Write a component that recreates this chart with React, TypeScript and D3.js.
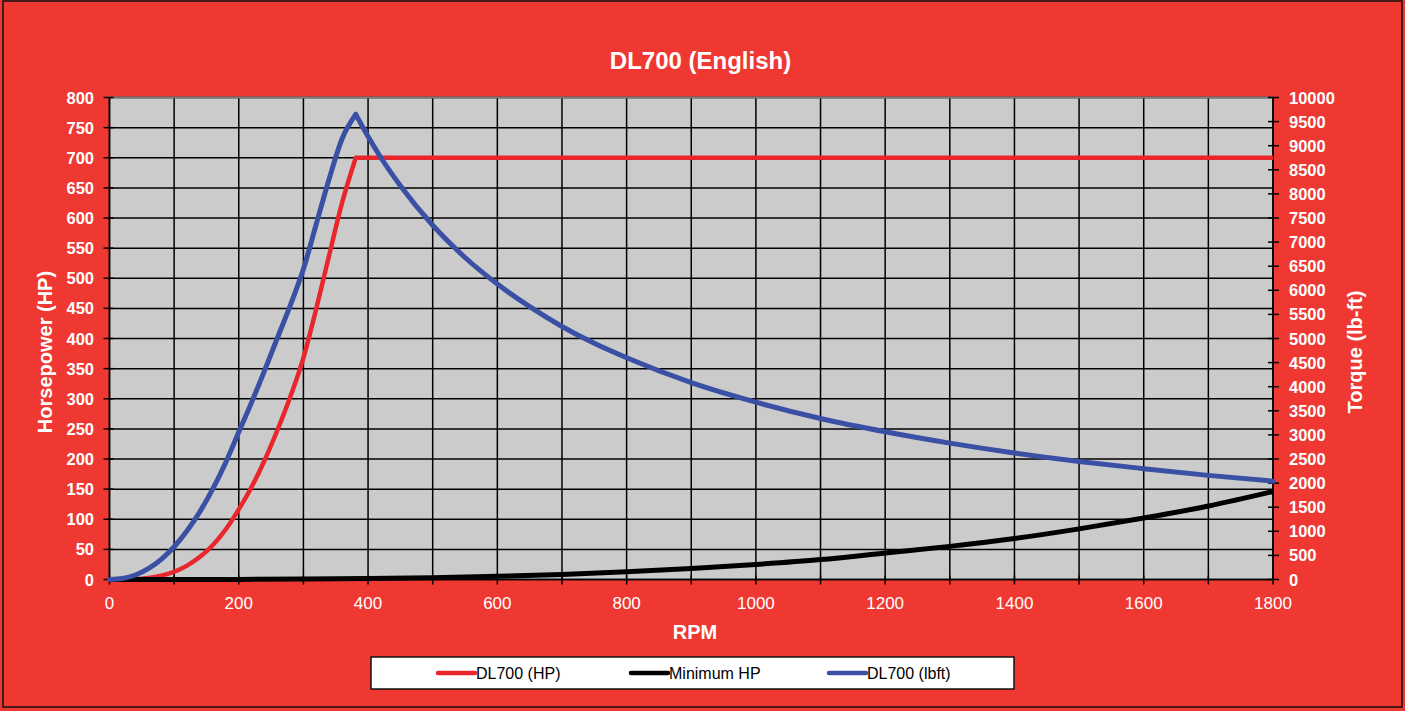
import React from 'react';
import * as d3 from 'd3';

// ---- data ----
const hpRpm = [0, 20, 40, 60, 80, 100, 120, 140, 160, 180, 200, 220, 240, 260, 280, 300, 320, 340, 360, 381];
const hpValues = [0, 0.1, 0.7, 2.6, 6.4, 12.9, 23, 37.6, 57.4, 83.4, 116.5, 154, 198, 248.5, 304, 368, 450, 539, 626, 700];
const hpFlatRpm = [381, 1800];
const hpFlatValues = [700, 700];

const torqueRiseRpm = [0, 20, 40, 60, 80, 100, 120, 140, 160, 180, 200, 220, 240, 260, 280, 300, 320, 340, 360, 381];
const torqueRiseValues = [0, 21, 93, 224, 419, 680, 1010, 1411, 1885, 2434, 3060, 3680, 4340, 5020, 5700, 6440, 7380, 8320, 9150, 9650];
const torqueFallRpm = [381, 400, 420, 450, 500, 550, 600, 650, 700, 750, 800, 900, 1000, 1100, 1200, 1300, 1400, 1500, 1600, 1700, 1800];
const torqueFallValues = [9650, 9190, 8750, 8170, 7350, 6680, 6130, 5660, 5250, 4900, 4600, 4085, 3680, 3340, 3065, 2830, 2625, 2450, 2300, 2160, 2040];

const minRpm = [0, 100, 200, 300, 400, 500, 600, 700, 800, 900, 1000, 1100, 1200, 1300, 1400, 1500, 1600, 1700, 1800];
const minHp = [0, 0, 0.2, 0.7, 1.6, 3.1, 5.4, 8.5, 12.7, 18.1, 24.9, 33.1, 44, 55, 68, 84, 102, 122, 146];

const rpmGrid = d3.range(0, 1801, 100);
const rpmLabels = [0, 200, 400, 600, 800, 1000, 1200, 1400, 1600, 1800];
const hpTicks = d3.range(0, 801, 50);
const torqueTicks = d3.range(0, 10001, 500);

const legendItems = [
  { label: 'DL700 (HP)', color: '#E8262B' },
  { label: 'Minimum HP', color: '#000000' },
  { label: 'DL700 (lbft)', color: '#3A50A4' },
];

const W = 1405;
const H = 711;
const BG = '#EE3831';
const FONT = "Arial, 'Liberation Sans', sans-serif";
const RED = '#E8262B';
const BLUE = '#3A50A4';

export default function App() {
  const left = 109.5, right = 1273, top = 97.5, bottom = 579.5;
  const x = d3.scaleLinear().domain([0, 1800]).range([left, right]);
  const yHp = d3.scaleLinear().domain([0, 800]).range([bottom, top]);
  const yTq = d3.scaleLinear().domain([0, 10000]).range([bottom, top]);

  const pts = (xs: number[], ys: number[]) => xs.map((r, i) => [r, ys[i]] as [number, number]);
  const lineHp = d3.line<[number, number]>().x(d => x(d[0])).y(d => yHp(d[1])).curve(d3.curveMonotoneX);
  const lineTq = d3.line<[number, number]>().x(d => x(d[0])).y(d => yTq(d[1])).curve(d3.curveMonotoneX);

  const legendX = [438, 631, 829];

  return (
    <svg width={W} height={H} style={{ position: 'absolute', left: 0, top: 0, display: 'block' }}>
      <rect x={0} y={0} width={W} height={H} fill={BG} />
      <rect x={3} y={1} width={1399} height={706} fill="none" stroke="#111" strokeWidth={1.5} />

      <text x={700.5} y={69} textAnchor="middle" fill="#fff" fontFamily={FONT} fontWeight="bold" fontSize={24}>DL700 (English)</text>

      {/* plot area */}
      <rect x={left} y={top} width={right - left} height={bottom - top} fill="#CBCBCB" />
      {hpTicks.map(t => (
        <line key={'h' + t} x1={left} x2={right} y1={yHp(t)} y2={yHp(t)} stroke="#000" strokeWidth={1.5} />
      ))}
      {rpmGrid.map(t => (
        <line key={'v' + t} x1={x(t)} x2={x(t)} y1={top} y2={bottom} stroke="#000" strokeWidth={1.5} />
      ))}
      <line x1={left} x2={right} y1={top} y2={top} stroke="#7a7a7a" strokeWidth={2} />

      {/* axes */}
      <line x1={left} x2={left} y1={top} y2={bottom} stroke="#000" strokeWidth={1.5} />
      <line x1={right} x2={right} y1={top} y2={bottom} stroke="#000" strokeWidth={1.5} />
      <line x1={left} x2={right} y1={bottom} y2={bottom} stroke="#000" strokeWidth={1.5} />
      {hpTicks.map(t => (
        <g key={'lt' + t}>
          <line x1={left - 6} x2={left + 4} y1={yHp(t)} y2={yHp(t)} stroke="#000" strokeWidth={1.5} />
          <text x={94} y={yHp(t) + 6} textAnchor="end" fill="#fff" fontFamily={FONT} fontWeight="bold" fontSize={16.5}>{t}</text>
        </g>
      ))}
      {torqueTicks.map(t => (
        <g key={'rt' + t}>
          <line x1={right - 5} x2={right + 6} y1={yTq(t)} y2={yTq(t)} stroke="#000" strokeWidth={1.5} />
          <text x={1289} y={yTq(t) + 6} textAnchor="start" fill="#fff" fontFamily={FONT} fontWeight="bold" fontSize={16.5}>{t}</text>
        </g>
      ))}
      {rpmGrid.map(t => (
        <line key={'bt' + t} x1={x(t)} x2={x(t)} y1={bottom - 4} y2={bottom + 5} stroke="#000" strokeWidth={1.5} />
      ))}
      {rpmLabels.map(t => (
        <text key={'bl' + t} x={x(t)} y={609} textAnchor="middle" fill="#fff" fontFamily={FONT} fontSize={17}>{t}</text>
      ))}

      {/* axis titles */}
      <text x={695} y={639} textAnchor="middle" fill="#fff" fontFamily={FONT} fontWeight="bold" fontSize={20}>RPM</text>
      <text transform="translate(52,352) rotate(-90)" textAnchor="middle" fill="#fff" fontFamily={FONT} fontWeight="bold" fontSize={20}>Horsepower (HP)</text>
      <text transform="translate(1362,352) rotate(-90)" textAnchor="middle" fill="#fff" fontFamily={FONT} fontWeight="bold" fontSize={20}>Torque (lb-ft)</text>

      {/* series */}
      <path d={lineHp(pts(hpRpm, hpValues)) || ''} fill="none" stroke={RED} strokeWidth={4.5} strokeLinejoin="round" strokeLinecap="round" />
      <path d={lineHp(pts(hpFlatRpm, hpFlatValues)) || ''} fill="none" stroke={RED} strokeWidth={4.5} strokeLinejoin="round" strokeLinecap="butt" />
      <path d={lineHp(pts(minRpm, minHp)) || ''} fill="none" stroke="#000" strokeWidth={5} strokeLinejoin="round" />
      <path d={lineTq(pts(torqueRiseRpm, torqueRiseValues)) || ''} fill="none" stroke={BLUE} strokeWidth={5} strokeLinejoin="round" strokeLinecap="round" />
      <path d={lineTq(pts(torqueFallRpm, torqueFallValues)) || ''} fill="none" stroke={BLUE} strokeWidth={5} strokeLinejoin="round" strokeLinecap="round" />

      {/* legend */}
      <rect x={371} y={657} width={643} height={32} fill="#fff" stroke="#111" strokeWidth={1.5} />
      {legendItems.map((it, i) => (
        <g key={it.label}>
          <line x1={legendX[i]} x2={legendX[i] + 37} y1={673} y2={673} stroke={it.color} strokeWidth={4.5} strokeLinecap="round" />
          <text x={legendX[i] + 38} y={679} fill="#000" fontFamily={FONT} fontSize={16}>{it.label}</text>
        </g>
      ))}
    </svg>
  );
}
